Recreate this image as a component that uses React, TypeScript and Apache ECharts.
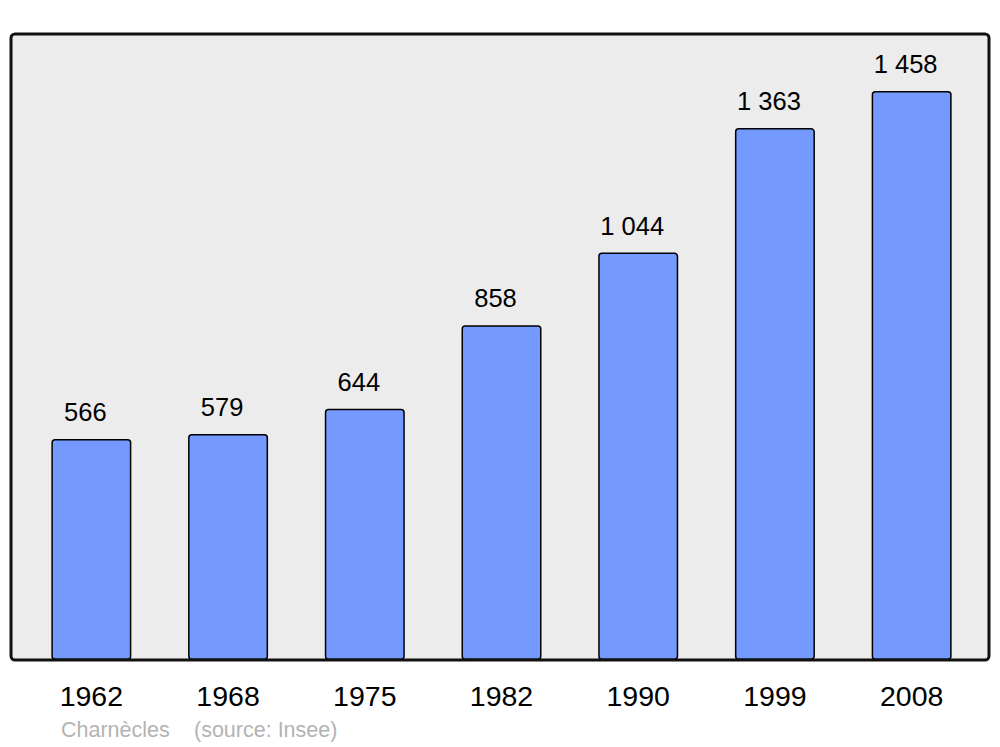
import React, { useEffect, useRef } from "react";
import * as echarts from "echarts";

const years = ["1962", "1968", "1975", "1982", "1990", "1999", "2008"];
const population = [566, 579, 644, 858, 1044, 1363, 1458];
const townName = "Charnècles";
const sourceText = "(source: Insee)";

const fmt = (v: number) => String(v).replace(/\B(?=(\d{3})+(?!\d))/g, " ");

export default function App() {
  const ref = useRef<HTMLDivElement>(null);
  useEffect(() => {
    if (!ref.current) return;
    const chart = echarts.init(ref.current, undefined, { renderer: "svg" });
    const font = "'Liberation Sans', Arial, sans-serif";
    chart.setOption({
      animation: false,
      backgroundColor: "#ffffff",
      grid: { left: 23, right: 20, top: 34, bottom: 87, containLabel: false },
      xAxis: {
        type: "category",
        data: years,
        axisLine: { show: false },
        axisTick: { show: false },
        axisLabel: {
          color: "#000",
          fontSize: 28.5,
          fontFamily: font,
          margin: 21,
          lineHeight: 29,
        },
      },
      yAxis: {
        type: "value",
        min: 0,
        max: 1604,
        show: false,
        splitLine: { show: false },
      },
      graphic: [
        {
          type: "rect",
          z: -10,
          silent: true,
          shape: { x: 11, y: 34, width: 978, height: 626, r: 4 },
          style: { fill: "#ececec", stroke: "none" },
        },
        {
          type: "rect",
          z: 100,
          silent: true,
          shape: { x: 11, y: 34, width: 978, height: 626, r: 4 },
          style: { fill: "none", stroke: "#111", lineWidth: 3 },
        },
        {
          type: "text",
          x: 61,
          y: 730,
          style: {
            text: townName,
            fill: "#b3b3b3",
            font: `21.5px ${font}`,
            verticalAlign: "middle",
          },
        },
        {
          type: "text",
          x: 194,
          y: 730,
          style: {
            text: sourceText,
            fill: "#b3b3b3",
            font: `21.5px ${font}`,
            verticalAlign: "middle",
          },
        },
      ],
      series: [
        {
          type: "bar",
          data: population,
          barWidth: 80,
          itemStyle: {
            color: "#7499ff",
            borderColor: "#000",
            borderWidth: 1.5,
            borderRadius: 3,
          },
          label: {
            show: true,
            position: "top",
            distance: 14,
            offset: [-6, 0],
            color: "#000",
            fontSize: 25.5,
            lineHeight: 26,
            fontFamily: font,
            formatter: (p: any) => fmt(p.value),
          },
        },
      ],
    });
    return () => chart.dispose();
  }, []);
  return (
    <div
      ref={ref}
      style={{ position: "fixed", left: 0, top: 0, width: 1000, height: 747 }}
    />
  );
}
